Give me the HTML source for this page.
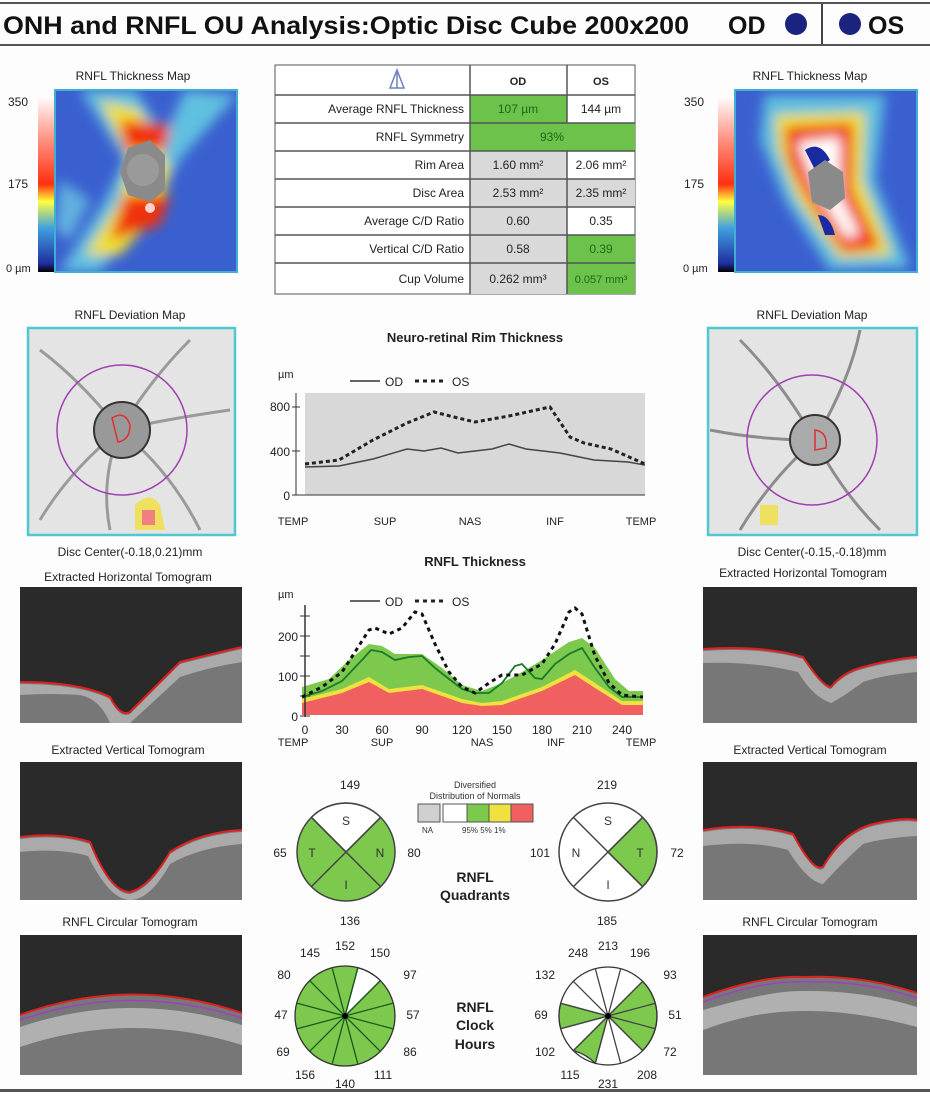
<!DOCTYPE html>
<html><head><meta charset="utf-8"><style>
body{margin:0;background:#fff;}
svg text{font-family:"Liberation Sans",Arial,sans-serif;}
</style></head><body>
<svg width="930" height="1093" viewBox="0 0 930 1093" xmlns="http://www.w3.org/2000/svg">
<defs>
<filter id="b6" filterUnits="userSpaceOnUse" x="0" y="0" width="930" height="400"><feGaussianBlur stdDeviation="6"/></filter>
<linearGradient id="cb" x1="0" y1="1" x2="0" y2="0">
<stop offset="0" stop-color="#000"/><stop offset="0.05" stop-color="#2030a0"/><stop offset="0.25" stop-color="#40a0e0"/><stop offset="0.4" stop-color="#ffff40"/><stop offset="0.5" stop-color="#ff3010"/><stop offset="0.75" stop-color="#ff9080"/><stop offset="1" stop-color="#fff"/></linearGradient>
<clipPath id="cl1"><rect x="55" y="90" width="182" height="182"/></clipPath>
<clipPath id="cl2"><rect x="735" y="90" width="182" height="182"/></clipPath>
</defs>
<rect width="930" height="1093" fill="#fdfdfd"/>
<!-- header -->
<rect x="0" y="2" width="930" height="2" fill="#555"/>
<rect x="0" y="44" width="930" height="2" fill="#555"/>
<text x="3" y="34" font-size="25" font-weight="bold" fill="#111" textLength="686" lengthAdjust="spacingAndGlyphs">ONH and RNFL OU Analysis:Optic Disc Cube 200x200</text>
<text x="728" y="34" font-size="25" font-weight="bold" fill="#111">OD</text>
<circle cx="796" cy="24" r="11" fill="#1a237e"/>
<rect x="821" y="4" width="2" height="40" fill="#444"/>
<circle cx="850" cy="24" r="11" fill="#1a237e"/>
<text x="868" y="34" font-size="25" font-weight="bold" fill="#111">OS</text>

<!-- left thickness map -->
<text x="133" y="80" font-size="12" text-anchor="middle" fill="#222">RNFL Thickness Map</text>
<rect x="38" y="96" width="16" height="176" fill="url(#cb)"/>
<text x="8" y="106" font-size="12" fill="#222">350</text>
<text x="8" y="188" font-size="12" fill="#222">175</text>
<text x="6" y="272" font-size="11" fill="#222">0 µm</text>
<g clip-path="url(#cl1)">
<rect x="55" y="90" width="182" height="182" fill="#3a60d0"/>
<g filter="url(#b6)">
<path d="M80 90 L135 90 L180 160 L150 210 L100 272 L60 272 L105 200 L125 160 Z" fill="#60c0e0"/>
<path d="M185 90 L237 95 L170 170 L150 170 Z" fill="#60c0e0"/>
<path d="M60 180 L90 200 L70 240 L55 230 Z" fill="#60b0e0"/>
<path d="M100 100 L140 110 L170 170 L160 210 L120 255 L85 255 L120 200 L130 160 Z" fill="#f0e030"/>
<path d="M120 120 L170 125 L165 150 L125 150 Z" fill="#f03010"/>
<path d="M125 195 L170 195 L160 225 L110 240 Z" fill="#f03010"/>
</g>
<polygon points="128,148 150,140 165,155 165,190 150,202 128,195 120,172" fill="#8a8a8a"/>
<circle cx="143" cy="170" r="16" fill="#9a9a9a"/>
<circle cx="150" cy="208" r="5" fill="#ffd0d0"/>
</g>
<rect x="55" y="90" width="182" height="182" fill="none" stroke="#40b0d0" stroke-width="2"/>

<!-- right thickness map -->
<text x="810" y="80" font-size="12" text-anchor="middle" fill="#222">RNFL Thickness Map</text>
<rect x="718" y="96" width="16" height="176" fill="url(#cb)"/>
<text x="684" y="106" font-size="12" fill="#222">350</text>
<text x="684" y="188" font-size="12" fill="#222">175</text>
<text x="683" y="272" font-size="11" fill="#222">0 µm</text>
<g clip-path="url(#cl2)">
<rect x="735" y="90" width="182" height="182" fill="#3a60d0"/>
<g filter="url(#b6)">
<path d="M765 95 L885 95 L875 180 L910 268 L830 270 L785 200 L760 140 Z" fill="#60c0e0"/>
<path d="M775 115 L865 112 L862 180 L892 255 L840 258 L798 200 L778 150 Z" fill="#f0e030"/>
<path d="M785 127 L853 123 L852 190 L880 248 L843 252 L805 195 L788 160 Z" fill="#f03010"/>
<path d="M797 142 L840 137 L840 195 L860 235 L846 238 L816 190 Z" fill="#fff"/>
</g>
<path d="M805 150 Q820 140 830 160 L815 170 Z" fill="#1a2aa0"/>
<path d="M818 215 Q830 215 835 235 L825 235 Z" fill="#1a2aa0"/>
<polygon points="808,172 825,160 843,172 845,198 830,210 812,202" fill="#8a8a8a"/>
</g>
<rect x="735" y="90" width="182" height="182" fill="none" stroke="#40b0d0" stroke-width="2"/>

<!-- table -->
<g font-size="12" fill="#222">
<rect x="275" y="65" width="360" height="229" fill="#fff" stroke="#555"/>
<rect x="470" y="95" width="97" height="28" fill="#6cc24a"/>
<rect x="470" y="123" width="165" height="28" fill="#6cc24a"/>
<rect x="470" y="151" width="97" height="28" fill="#d9d9d9"/>
<rect x="470" y="179" width="165" height="28" fill="#d9d9d9"/>
<rect x="470" y="207" width="97" height="28" fill="#d9d9d9"/>
<rect x="470" y="235" width="97" height="28" fill="#d9d9d9"/>
<rect x="567" y="235" width="68" height="28" fill="#6cc24a"/>
<rect x="470" y="263" width="97" height="31" fill="#d9d9d9"/>
<rect x="567" y="263" width="68" height="31" fill="#6cc24a"/>
<g stroke="#555" stroke-width="1.5">
<line x1="275" y1="95" x2="635" y2="95"/><line x1="275" y1="123" x2="635" y2="123"/><line x1="275" y1="151" x2="635" y2="151"/><line x1="275" y1="179" x2="635" y2="179"/><line x1="275" y1="207" x2="635" y2="207"/><line x1="275" y1="235" x2="635" y2="235"/><line x1="275" y1="263" x2="635" y2="263"/>
<line x1="470" y1="65" x2="470" y2="294"/><line x1="567" y1="65" x2="567" y2="123"/><line x1="567" y1="151" x2="567" y2="294"/>
</g>
<path d="M390 88 L397 70 L404 88 Z M397 70 L397 88" fill="none" stroke="#7080c0" stroke-width="1.5"/>
<text x="518" y="85" text-anchor="middle" font-weight="bold" font-size="11">OD</text>
<text x="601" y="85" text-anchor="middle" font-weight="bold" font-size="11">OS</text>
<g text-anchor="end">
<text x="464" y="113">Average RNFL Thickness</text>
<text x="464" y="141">RNFL Symmetry</text>
<text x="464" y="169">Rim Area</text>
<text x="464" y="197">Disc Area</text>
<text x="464" y="225">Average C/D Ratio</text>
<text x="464" y="253">Vertical C/D Ratio</text>
<text x="464" y="283">Cup Volume</text>
</g>
<g text-anchor="middle">
<text x="518" y="113" fill="#1a6a1a">107 µm</text><text x="601" y="113">144 µm</text>
<text x="552" y="141" fill="#1a6a1a">93%</text>
<text x="518" y="169">1.60 mm²</text><text x="601" y="169">2.06 mm²</text>
<text x="518" y="197">2.53 mm²</text><text x="601" y="197">2.35 mm²</text>
<text x="518" y="225">0.60</text><text x="601" y="225">0.35</text>
<text x="518" y="253">0.58</text><text x="601" y="253" fill="#1a6a1a">0.39</text>
<text x="518" y="283">0.262 mm³</text><text x="601" y="283" fill="#1a6a1a" font-size="11">0.057 mm³</text>
</g>
</g>

<!-- deviation maps -->
<text x="130" y="319" font-size="12" text-anchor="middle" fill="#222">RNFL Deviation Map</text>
<rect x="28" y="328" width="207" height="207" fill="#e4e4e4" stroke="#50c8d0" stroke-width="2.5"/>
<g stroke="#888" stroke-width="3" fill="none" opacity="0.8">
<path d="M120 430 Q80 380 40 350"/><path d="M120 430 Q150 380 190 340"/><path d="M120 430 Q70 470 40 520"/><path d="M120 430 Q170 470 200 530"/><path d="M120 430 Q160 420 230 410"/><path d="M120 430 Q100 480 110 530"/>
</g>
<circle cx="122" cy="430" r="65" fill="none" stroke="#a040b0" stroke-width="1.5"/>
<circle cx="122" cy="430" r="28" fill="#999" stroke="#333" stroke-width="2"/>
<path d="M112 418 Q125 410 130 425 Q130 440 118 442 Z" fill="none" stroke="#e03030" stroke-width="1.5"/>
<path d="M135 505 Q150 490 160 505 L165 530 L135 530 Z" fill="#f0e060"/>
<path d="M142 510 L155 510 L155 525 L142 525 Z" fill="#f08080"/>
<text x="130" y="556" font-size="12" text-anchor="middle" fill="#222">Disc Center(-0.18,0.21)mm</text>

<text x="812" y="319" font-size="12" text-anchor="middle" fill="#222">RNFL Deviation Map</text>
<rect x="708" y="328" width="209" height="207" fill="#e4e4e4" stroke="#50c8d0" stroke-width="2.5"/>
<g stroke="#777" stroke-width="3" fill="none" opacity="0.8">
<path d="M815 440 Q850 380 860 330"/><path d="M815 440 Q780 380 740 340"/><path d="M815 440 Q840 490 880 530"/><path d="M815 440 Q770 480 740 530"/><path d="M815 440 Q760 440 710 430"/>
</g>
<circle cx="812" cy="440" r="65" fill="none" stroke="#a040b0" stroke-width="1.5"/>
<circle cx="815" cy="440" r="25" fill="#aaa" stroke="#333" stroke-width="2"/>
<path d="M815 430 Q828 432 826 448 L815 450 Z" fill="none" stroke="#e03030" stroke-width="1.5"/>
<path d="M760 505 L778 505 L778 525 L760 525 Z" fill="#f0e060"/>
<text x="812" y="556" font-size="12" text-anchor="middle" fill="#222">Disc Center(-0.15,-0.18)mm</text>

<!-- Neuro-retinal rim chart -->
<text x="475" y="342" font-size="13" font-weight="bold" text-anchor="middle" fill="#222">Neuro-retinal Rim Thickness</text>
<text x="278" y="378" font-size="11" fill="#222">µm</text>
<line x1="350" y1="381" x2="380" y2="381" stroke="#333" stroke-width="1.5"/>
<text x="385" y="386" font-size="12" fill="#222">OD</text>
<line x1="415" y1="381" x2="445" y2="381" stroke="#222" stroke-width="3" stroke-dasharray="4,4"/>
<text x="452" y="386" font-size="12" fill="#222">OS</text>
<rect x="305" y="393" width="340" height="102" fill="#d8d8d8"/>
<line x1="296" y1="393" x2="296" y2="495" stroke="#333"/>
<line x1="296" y1="495" x2="645" y2="495" stroke="#333"/>
<g stroke="#333"><line x1="292" y1="407" x2="300" y2="407"/><line x1="292" y1="451" x2="300" y2="451"/><line x1="292" y1="495" x2="300" y2="495"/></g>
<g font-size="12" fill="#222" text-anchor="end"><text x="290" y="411">800</text><text x="290" y="456">400</text><text x="290" y="500">0</text></g>
<g font-size="11" fill="#222" text-anchor="middle"><text x="293" y="525">TEMP</text><text x="385" y="525">SUP</text><text x="470" y="525">NAS</text><text x="555" y="525">INF</text><text x="641" y="525">TEMP</text></g>
<polyline fill="none" stroke="#444" stroke-width="1.5" points="305,467 339,466 373,459 407,449 424,451 441,448 458,453 492,449 509,444 526,449 560,453 594,460 628,462 645,465"/>
<polyline fill="none" stroke="#222" stroke-width="3" stroke-dasharray="4,3" points="305,464 339,460 373,440 407,423 434,412 458,418 475,422 509,416 550,407 570,437 584,443 611,449 645,464"/>

<!-- RNFL thickness chart -->
<text x="475" y="566" font-size="13" font-weight="bold" text-anchor="middle" fill="#222">RNFL Thickness</text>
<text x="278" y="598" font-size="11" fill="#222">µm</text>
<line x1="350" y1="601" x2="380" y2="601" stroke="#333" stroke-width="1.5"/>
<text x="385" y="606" font-size="12" fill="#222">OD</text>
<line x1="415" y1="601" x2="445" y2="601" stroke="#222" stroke-width="3" stroke-dasharray="4,4"/>
<text x="452" y="606" font-size="12" fill="#222">OS</text>
<polygon fill="#7cc94e" points="302,715 302,687 329,679 349,660 369,644 382,646 395,654 422,654 442,668 462,685 482,691 502,683 522,672 542,660 569,642 582,638 595,648 615,679 629,691 643,691 643,715"/>
<polygon fill="#f0e040" points="302,715 302,699 342,689 369,677 389,689 422,685 462,699 482,703 502,701 542,687 575,670 595,683 622,701 643,701 643,715"/>
<polygon fill="#f06060" points="302,715 302,703 342,693 369,682 389,693 422,689 462,703 482,706 502,705 542,691 575,675 595,688 622,705 643,705 643,715"/>
<line x1="305" y1="605" x2="305" y2="717" stroke="#333" stroke-width="1.5"/>
<g stroke="#333"><line x1="300" y1="636" x2="310" y2="636"/><line x1="300" y1="676" x2="310" y2="676"/><line x1="300" y1="716" x2="310" y2="716"/><line x1="300" y1="616" x2="310" y2="616"/><line x1="300" y1="656" x2="310" y2="656"/><line x1="300" y1="696" x2="310" y2="696"/></g>
<g font-size="12" fill="#222" text-anchor="end"><text x="298" y="641">200</text><text x="298" y="681">100</text><text x="298" y="721">0</text></g>
<g font-size="12" fill="#222" text-anchor="middle"><text x="305" y="734">0</text><text x="342" y="734">30</text><text x="382" y="734">60</text><text x="422" y="734">90</text><text x="462" y="734">120</text><text x="502" y="734">150</text><text x="542" y="734">180</text><text x="582" y="734">210</text><text x="622" y="734">240</text></g>
<g font-size="11" fill="#222" text-anchor="middle"><text x="293" y="746">TEMP</text><text x="382" y="746">SUP</text><text x="482" y="746">NAS</text><text x="556" y="746">INF</text><text x="641" y="746">TEMP</text></g>
<polyline fill="none" stroke="#1a7a2a" stroke-width="1.8" points="302,697 322,691 342,681 362,660 371,650 382,652 395,660 409,657 422,656 435,668 449,679 462,689 475,693 489,693 502,683 515,666 522,664 535,678 542,679 555,664 569,654 582,648 595,668 609,687 622,697 643,697"/>
<polyline fill="none" stroke="#111" stroke-width="3" stroke-dasharray="4,4" points="302,697 322,687 342,672 355,652 369,630 375,628 389,634 402,628 415,612 422,614 435,644 449,672 462,687 475,693 489,683 502,675 522,675 542,664 555,644 569,612 575,608 582,614 595,656 609,683 622,695 643,697"/>

<!-- quadrants -->
<g font-size="12" fill="#222" text-anchor="middle">
<text x="350" y="789">149</text><text x="350" y="925">136</text><text x="280" y="857">65</text><text x="414" y="857">80</text>
<text x="607" y="789">219</text><text x="607" y="925">185</text><text x="540" y="857">101</text><text x="677" y="857">72</text>
</g>
<g stroke="#444" stroke-width="1.5">
<circle cx="346" cy="852" r="49" fill="#7cc94e"/>
<path d="M346 852 L311.4 817.4 A49 49 0 0 1 380.6 817.4 Z" fill="#fff"/>
<line x1="311.4" y1="817.4" x2="380.6" y2="886.6"/><line x1="380.6" y1="817.4" x2="311.4" y2="886.6"/>
<circle cx="608" cy="852" r="49" fill="#fff"/>
<path d="M608 852 L642.6 817.4 A49 49 0 0 1 642.6 886.6 Z" fill="#7cc94e"/>
<line x1="573.4" y1="817.4" x2="642.6" y2="886.6"/><line x1="642.6" y1="817.4" x2="573.4" y2="886.6"/>
</g>
<g font-size="12" fill="#333" text-anchor="middle">
<text x="346" y="825">S</text><text x="312" y="857">T</text><text x="380" y="857">N</text><text x="346" y="889">I</text>
<text x="608" y="825">S</text><text x="576" y="857">N</text><text x="640" y="857">T</text><text x="608" y="889">I</text>
</g>
<text x="475" y="788" font-size="9" fill="#333" text-anchor="middle">Diversified</text>
<text x="475" y="799" font-size="9" fill="#333" text-anchor="middle">Distribution of Normals</text>
<g stroke="#555"><rect x="418" y="804" width="22" height="18" fill="#d0d0d0"/><rect x="443" y="804" width="24" height="18" fill="#fff"/><rect x="467" y="804" width="22" height="18" fill="#7cc94e"/><rect x="489" y="804" width="22" height="18" fill="#f0e040"/><rect x="511" y="804" width="22" height="18" fill="#f06060"/></g>
<g font-size="8" fill="#333"><text x="422" y="833">NA</text><text x="462" y="833">95% 5% 1%</text></g>
<g font-size="14" font-weight="bold" fill="#222" text-anchor="middle"><text x="475" y="882">RNFL</text><text x="475" y="900">Quadrants</text>
<text x="475" y="1012">RNFL</text><text x="475" y="1030">Clock</text><text x="475" y="1049">Hours</text></g>

<!-- clock hours -->
<g stroke="#333" stroke-width="1.3">
<circle cx="345" cy="1016" r="50" fill="#7cc94e"/>
<path d="M345 1016 L357.9 967.7 A50 50 0 0 1 380.4 980.6 Z" fill="#fff"/>
<circle cx="608" cy="1016" r="49" fill="#fff"/>
<path d="M608 1016 L642.6 981.4 A49 49 0 0 1 642.6 1050.6 Z" fill="#7cc94e"/>
<path d="M608 1016 L560.7 1028.7 A49 49 0 0 1 560.7 1003.3 Z" fill="#7cc94e"/>
<path d="M608 1016 L573.4 1050.6 A49 49 0 0 1 595.3 1063.3 Z" fill="#7cc94e"/>
</g>
<g stroke="#1a5a1a" stroke-width="1.3">
<line x1="357.9" y1="967.7" x2="332.1" y2="1064.3"/><line x1="380.4" y1="980.6" x2="309.6" y2="1051.4"/><line x1="393.3" y1="1003.1" x2="296.7" y2="1028.9"/><line x1="393.3" y1="1028.9" x2="296.7" y2="1003.1"/><line x1="380.4" y1="1051.4" x2="309.6" y2="980.6"/><line x1="357.9" y1="1064.3" x2="332.1" y2="967.7"/>
</g>
<g stroke="#444" stroke-width="1.3">
<line x1="620.7" y1="968.7" x2="595.3" y2="1063.3"/><line x1="642.6" y1="981.4" x2="573.4" y2="1050.6"/><line x1="655.3" y1="1003.3" x2="560.7" y2="1028.7"/><line x1="655.3" y1="1028.7" x2="560.7" y2="1003.3"/><line x1="642.6" y1="1050.6" x2="573.4" y2="981.4"/><line x1="620.7" y1="1063.3" x2="595.3" y2="968.7"/>
</g>
<circle cx="345" cy="1016" r="3" fill="#000"/><circle cx="608" cy="1016" r="3" fill="#000"/>
<g font-size="12" fill="#222" text-anchor="middle">
<text x="345" y="950">152</text><text x="380" y="957">150</text><text x="310" y="957">145</text><text x="410" y="979">97</text><text x="284" y="979">80</text><text x="413" y="1019">57</text><text x="281" y="1019">47</text><text x="410" y="1056">86</text><text x="283" y="1056">69</text><text x="383" y="1079">111</text><text x="305" y="1079">156</text><text x="345" y="1088">140</text>
<text x="608" y="950">213</text><text x="640" y="957">196</text><text x="578" y="957">248</text><text x="670" y="979">93</text><text x="545" y="979">132</text><text x="675" y="1019">51</text><text x="541" y="1019">69</text><text x="670" y="1056">72</text><text x="545" y="1056">102</text><text x="647" y="1079">208</text><text x="570" y="1079">115</text><text x="608" y="1088">231</text>
</g>

<!-- tomograms -->
<g font-size="12" fill="#222" text-anchor="middle">
<text x="128" y="581">Extracted Horizontal Tomogram</text>
<text x="128" y="754">Extracted Vertical Tomogram</text>
<text x="130" y="926">RNFL Circular Tomogram</text>
<text x="803" y="577">Extracted Horizontal Tomogram</text>
<text x="810" y="754">Extracted Vertical Tomogram</text>
<text x="810" y="926">RNFL Circular Tomogram</text>
</g>
<g transform="translate(20,587)">
<rect width="222" height="136" fill="#2a2a2a"/>
<path d="M0 95 Q60 95 90 110 Q100 130 110 125 Q130 105 160 75 Q200 65 222 60 L222 136 L0 136 Z" fill="#777"/>
<path d="M0 97 Q60 97 90 112 Q100 132 110 127 Q130 107 160 77 Q200 67 222 62 L222 75 Q190 80 160 90 Q130 118 110 136 L90 136 Q80 112 60 108 Q30 106 0 108 Z" fill="#aaa"/>
<path d="M0 95 Q60 95 90 110 Q100 130 110 125 Q130 105 160 75 Q200 65 222 60" fill="none" stroke="#e02020" stroke-width="2"/>
</g>
<g transform="translate(20,762)">
<rect width="222" height="138" fill="#2a2a2a"/>
<path d="M0 75 Q40 70 70 80 Q90 130 110 130 Q130 125 150 90 Q180 70 222 68 L222 138 L0 138 Z" fill="#777"/>
<path d="M0 77 Q40 72 70 82 Q90 132 110 132 Q130 127 150 92 Q180 72 222 70 L222 82 Q180 85 150 102 Q130 138 110 138 Q90 138 68 94 Q40 86 0 90 Z" fill="#aaa"/>
<path d="M0 75 Q40 70 70 80 Q90 130 110 130 Q130 125 150 90 Q180 70 222 68" fill="none" stroke="#e02020" stroke-width="2"/>
</g>
<g transform="translate(20,935)">
<rect width="222" height="140" fill="#2a2a2a"/>
<path d="M0 80 Q110 40 222 78 L222 140 L0 140 Z" fill="#777"/>
<path d="M0 92 Q110 55 222 90 L222 110 Q110 75 0 112 Z" fill="#b0b0b0"/>
<path d="M0 80 Q110 40 222 78" fill="none" stroke="#e02020" stroke-width="2"/>
<path d="M0 85 Q110 47 222 83" fill="none" stroke="#a040c0" stroke-width="1.5"/>
</g>
<g transform="translate(703,587)">
<rect width="214" height="136" fill="#2a2a2a"/>
<path d="M0 62 Q60 58 100 70 Q120 100 128 100 Q140 85 160 80 Q190 72 214 70 L214 136 L0 136 Z" fill="#777"/>
<path d="M0 64 Q60 60 100 72 Q120 102 128 102 Q140 87 160 82 Q190 74 214 72 L214 85 Q180 88 160 95 Q140 110 128 116 Q110 110 95 85 Q50 74 0 76 Z" fill="#aaa"/>
<path d="M0 62 Q60 58 100 70 Q120 100 128 100 Q140 85 160 80 Q190 72 214 70" fill="none" stroke="#e02020" stroke-width="2"/>
</g>
<g transform="translate(703,762)">
<rect width="214" height="138" fill="#2a2a2a"/>
<path d="M0 68 Q50 60 90 72 Q110 110 120 105 Q140 70 170 62 Q200 55 214 58 L214 138 L0 138 Z" fill="#777"/>
<path d="M0 70 Q50 62 90 74 Q110 112 120 107 Q140 72 170 64 Q200 57 214 60 L214 74 Q180 76 160 82 Q140 100 120 122 Q105 120 85 88 Q50 78 0 84 Z" fill="#aaa"/>
<path d="M0 68 Q50 60 90 72 Q110 110 120 105 Q140 70 170 62 Q200 55 214 58" fill="none" stroke="#e02020" stroke-width="2"/>
</g>
<g transform="translate(703,935)">
<rect width="214" height="140" fill="#2a2a2a"/>
<path d="M0 62 Q60 40 100 42 Q160 40 214 58 L214 140 L0 140 Z" fill="#777"/>
<path d="M0 75 Q70 55 100 56 Q160 55 214 72 L214 92 Q150 75 100 76 Q50 76 0 95 Z" fill="#b0b0b0"/>
<path d="M0 62 Q60 40 100 42 Q160 40 214 58" fill="none" stroke="#e02020" stroke-width="2"/>
<path d="M0 67 Q60 45 100 47 Q160 45 214 63" fill="none" stroke="#a040c0" stroke-width="1.5"/>
</g>
<rect x="0" y="1089" width="930" height="3" fill="#555"/>
</svg>
</body></html>
